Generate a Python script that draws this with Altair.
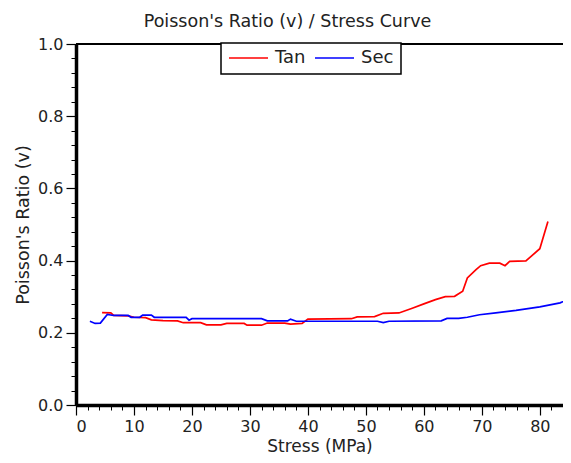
import altair as alt
import pandas as pd

# Tan (tangent) Poisson's ratio vs stress
tan_stress = [4.5, 6.0, 6.5, 9.0, 10.0, 12.0, 13.0, 15.0, 17.5, 18.5, 21.5, 22.5, 25.0, 26.0,
              29.0, 29.5, 32.0, 33.0, 36.0, 37.0, 39.0, 40.0, 47.5, 48.5, 51.5, 53.0, 55.7,
              58.0, 60.0, 62.0, 63.7, 65.3, 66.7, 67.5, 69.0, 69.8, 71.3, 73.1, 74.0, 74.8,
              77.6, 80.0, 81.4]
tan_ratio = [0.256, 0.255, 0.248, 0.247, 0.243, 0.242, 0.236, 0.234, 0.233, 0.228, 0.228,
             0.222, 0.222, 0.226, 0.226, 0.221, 0.221, 0.227, 0.227, 0.224, 0.226, 0.238,
             0.239, 0.244, 0.245, 0.254, 0.255, 0.268, 0.280, 0.292, 0.300, 0.301, 0.315,
             0.352, 0.375, 0.386, 0.393, 0.393, 0.386, 0.398, 0.399, 0.433, 0.508]

# Sec (secant) Poisson's ratio vs stress
sec_stress = [2.4, 3.3, 4.2, 5.4, 6.5, 9.0, 9.5, 11.0, 11.5, 13.0, 13.5, 19.0, 19.5, 20.0,
              32.0, 33.0, 36.5, 37.0, 38.0, 52.0, 53.0, 54.0, 63.0, 64.0, 66.0, 67.5, 69.6,
              72.4, 75.9, 80.0, 83.5, 85.8]
sec_ratio = [0.232, 0.226, 0.227, 0.251, 0.248, 0.248, 0.243, 0.243, 0.249, 0.249, 0.243,
             0.243, 0.235, 0.239, 0.239, 0.233, 0.233, 0.238, 0.232, 0.232, 0.228, 0.232,
             0.233, 0.240, 0.240, 0.243, 0.250, 0.255, 0.262, 0.272, 0.283, 0.299]

series_names = ["Tan", "Sec"]
series_colors = ["#ff0000", "#0000ff"]

x_major = [0, 10, 20, 30, 40, 50, 60, 70, 80]
x_minor = [v for v in range(0, 84, 2)]
y_major = [0.0, 0.2, 0.4, 0.6, 0.8, 1.0]
y_minor = [round(i * 0.04, 2) for i in range(26)]

df = pd.concat([
    pd.DataFrame({"stress": tan_stress, "ratio": tan_ratio, "series": "Tan", "order": range(len(tan_stress))}),
    pd.DataFrame({"stress": sec_stress, "ratio": sec_ratio, "series": "Sec", "order": range(len(sec_stress))}),
])

FONT = "DejaVu Sans"
W, H = 487, 361
xscale = alt.Scale(domain=[0, 84.0], nice=False, zero=False)
yscale = alt.Scale(domain=[0, 1], nice=False)

minor = alt.Chart(df).mark_point(opacity=0).encode(
    x=alt.X("stress:Q", scale=xscale,
            axis=alt.Axis(orient="bottom", values=x_minor, labels=False, domain=False,
                          grid=False, tickSize=5, tickColor="black", tickWidth=1, title=None)),
    y=alt.Y("ratio:Q", scale=yscale,
            axis=alt.Axis(orient="left", values=y_minor, labels=False, domain=False,
                          grid=False, tickSize=5, tickColor="black", tickWidth=1, title=None)),
)

lines = alt.Chart(df).mark_line(strokeWidth=1.7, clip=True).encode(
    x=alt.X("stress:Q", scale=xscale,
            axis=alt.Axis(orient="bottom", values=x_major, format="d", grid=False,
                          tickSize=10, tickColor="black", tickWidth=1.2,
                          domainColor="black", domainWidth=3.5,
                          labelFont=FONT, labelFontSize=16, labelColor="#222", labelPadding=3,
                          title="Stress (MPa)", titleFont=FONT, titleFontSize=17,
                          titleFontWeight="normal", titleColor="#222",
                          titleBaseline="alphabetic", titleY=46)),
    y=alt.Y("ratio:Q", scale=yscale,
            axis=alt.Axis(orient="left", values=y_major, format=".1f", grid=False,
                          tickSize=10, tickColor="black", tickWidth=1.2,
                          domainColor="black", domainWidth=3.5,
                          labelFont=FONT, labelFontSize=16, labelColor="#222", labelPadding=3,
                          title="Poisson's Ratio (v)", titleFont=FONT, titleFontSize=17.5,
                          titleFontWeight="normal", titleColor="#222",
                          titleBaseline="middle", titleX=-53, titleY=H / 2)),
    color=alt.Color("series:N",
                    scale=alt.Scale(domain=series_names, range=series_colors),
                    legend=alt.Legend(orient="none", legendX=145, legendY=-1,
                                      direction="horizontal", title=None,
                                      symbolType="stroke", symbolSize=1521,
                                      symbolStrokeWidth=1.5, clipHeight=16,
                                      labelFont=FONT, labelFontSize=18, labelColor="#222",
                                      labelOffset=6, columnPadding=8, padding=7,
                                      strokeColor="black", fillColor="white")),
    order="order:Q",
)

top_rule = alt.Chart(df).mark_rule(color="black", strokeWidth=2).encode(
    y=alt.value(0), x=alt.value(0), x2=alt.value(W)
)

chart = alt.layer(minor, top_rule, lines).resolve_axis(
    x="independent", y="independent"
).properties(
    width=W, height=H,
    title=alt.TitleParams("Poisson's Ratio (v) / Stress Curve", font=FONT, fontSize=17.5,
                          fontWeight="normal", color="#222", anchor="middle", dx=-32,
                          offset=-8, baseline="alphabetic", frame="group"),
    autosize=alt.AutoSizeParams(type="none"),
    padding={"left": 68, "top": 36, "right": 0, "bottom": 50},
).configure_view(stroke=None).configure_legend(strokeWidth=1.5)

chart.save("out.html", embed_options={"renderer": "svg", "actions": False})
